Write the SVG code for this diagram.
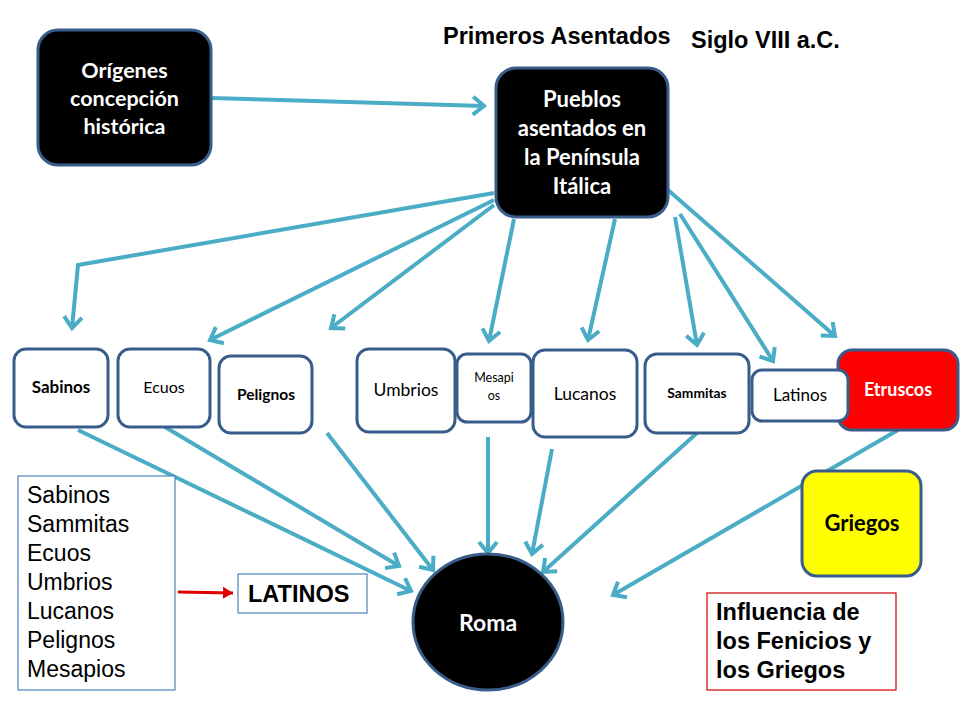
<svg xmlns="http://www.w3.org/2000/svg" width="960" height="720" viewBox="0 0 960 720">
<style>
.node{stroke:#385d8a;stroke-width:3}
.w{fill:#fff}
.blk{fill:#000}
.cal{font-family:Lato,"Open Sans","Liberation Sans",sans-serif}
.arial{font-family:"Liberation Sans",Arial,sans-serif}
.b{font-weight:bold}
.wt{fill:#fff}
.c{text-anchor:middle}
.conn{stroke:#4bacc6;stroke-width:4;fill:none;marker-end:url(#ah)}
</style>
<defs>
<marker id="ah" markerUnits="userSpaceOnUse" viewBox="-16 -12 20 24" markerWidth="20" markerHeight="24" refX="0" refY="0" orient="auto">
<path d="M-11,-9 L0,0 L-11,9" fill="none" stroke="#4bacc6" stroke-width="4"/>
</marker>
<marker id="ahr" markerUnits="userSpaceOnUse" viewBox="-12 -8 14 16" markerWidth="14" markerHeight="16" refX="0" refY="0" orient="auto">
<path d="M-10,-6 L0,0 L-10,6 Z" fill="#e00000"/>
</marker>
</defs>
<rect width="960" height="720" fill="#fff"/>

<g id="title">
<text class="arial b" x="443" y="44" font-size="23.5">Primeros Asentados</text>
<text class="arial b" x="691" y="48" font-size="23.5">Siglo VIII a.C.</text>
</g>

<g id="connectors">
<line class="conn" x1="211" y1="98" x2="484" y2="106"/>
<polyline class="conn" points="494,193 78,265 72,328"/>
<line class="conn" x1="494" y1="200" x2="210" y2="340"/>
<line class="conn" x1="494" y1="205" x2="331" y2="328"/>
<line class="conn" x1="514" y1="219" x2="489" y2="341"/>
<line class="conn" x1="615" y1="219" x2="588" y2="340"/>
<line class="conn" x1="675" y1="217" x2="697" y2="345"/>
<line class="conn" x1="680" y1="214" x2="773" y2="361"/>
<line class="conn" x1="668" y1="190" x2="835" y2="336"/>
<line class="conn" x1="78" y1="430" x2="411" y2="591"/>
<line class="conn" x1="165" y1="427" x2="399" y2="566"/>
<line class="conn" x1="327" y1="433" x2="433" y2="570"/>
<line class="conn" x1="488" y1="437" x2="488" y2="553"/>
<line class="conn" x1="552" y1="449" x2="532" y2="554"/>
<line class="conn" x1="697" y1="433" x2="543" y2="572"/>
<line class="conn" x1="898" y1="430" x2="613" y2="595"/>
<line x1="178" y1="592" x2="233" y2="593" stroke="#e00000" stroke-width="3" marker-end="url(#ahr)"/>
</g>

<g id="origenes">
<rect class="node blk" x="38" y="30" width="173" height="135" rx="20"/>
<text class="cal b wt c" font-size="21.5"><tspan x="124.5" y="78">Orígenes</tspan><tspan x="124.5" y="106">concepción</tspan><tspan x="124.5" y="134">histórica</tspan></text>
</g>

<g id="pueblos">
<rect class="node blk" x="496" y="68" width="172" height="149" rx="20"/>
<text class="cal b wt c" font-size="22"><tspan x="582" y="107">Pueblos</tspan><tspan x="582" y="136">asentados en</tspan><tspan x="582" y="165">la Península</tspan><tspan x="582" y="194">Itálica</tspan></text>
</g>

<g id="sabinos">
<rect class="node w" x="14" y="349" width="94" height="78" rx="12"/>
<text class="cal b c" font-size="17" x="61" y="393">Sabinos</text>
</g>
<g id="ecuos">
<rect class="node w" x="118" y="349" width="92" height="78" rx="12"/>
<text class="cal c" font-size="16" x="164" y="393">Ecuos</text>
</g>
<g id="pelignos">
<rect class="node w" x="219" y="356" width="93" height="77" rx="12"/>
<text class="cal b c" font-size="15.5" x="266" y="400">Pelignos</text>
</g>
<g id="umbrios">
<rect class="node w" x="357" y="349" width="98" height="83" rx="12"/>
<text class="cal c" font-size="17.5" x="406" y="396">Umbrios</text>
</g>
<g id="mesapios">
<rect class="node w" x="457" y="354" width="74" height="68" rx="10"/>
<text class="cal c" font-size="12.5"><tspan x="494" y="382">Mesapi</tspan><tspan x="494" y="400">os</tspan></text>
</g>
<g id="lucanos">
<rect class="node w" x="533" y="350" width="104" height="87" rx="12"/>
<text class="cal c" font-size="17.5" x="585" y="400">Lucanos</text>
</g>
<g id="sammitas">
<rect class="node w" x="645" y="354" width="104" height="79" rx="12"/>
<text class="cal b c" font-size="13.8" x="697" y="398">Sammitas</text>
</g>
<g id="etruscos">
<rect class="node" fill="#ff0000" x="838" y="350" width="120" height="80" rx="14"/>
<text class="cal b wt c" font-size="18" x="898" y="396">Etruscos</text>
</g>
<g id="latinos-node">
<rect class="node w" x="752" y="370" width="96" height="51" rx="10"/>
<text class="cal c" font-size="17" x="800" y="401">Latinos</text>
</g>

<g id="griegos">
<rect class="node" fill="#ffff00" x="802" y="471" width="119" height="105" rx="15"/>
<text class="cal b c" font-size="22" x="862" y="531">Griegos</text>
</g>

<g id="roma">
<ellipse class="node blk" cx="488" cy="622" rx="75" ry="68"/>
<text class="cal b wt c" font-size="23" x="488" y="631">Roma</text>
</g>

<g id="lista">
<rect x="18" y="476" width="157" height="214" fill="#fff" stroke="#4f81bd" stroke-width="1.2"/>
<text class="arial" font-size="23"><tspan x="27" y="503">Sabinos</tspan><tspan x="27" y="532">Sammitas</tspan><tspan x="27" y="561">Ecuos</tspan><tspan x="27" y="590">Umbrios</tspan><tspan x="27" y="619">Lucanos</tspan><tspan x="27" y="648">Pelignos</tspan><tspan x="27" y="677">Mesapios</tspan></text>
</g>

<g id="latinos-box">
<rect x="238" y="574" width="129" height="39" fill="#fff" stroke="#4f81bd" stroke-width="1.2"/>
<text class="arial b" font-size="23.5" x="248" y="602">LATINOS</text>
</g>

<g id="influencia">
<rect x="707" y="593" width="189" height="97" fill="#fff" stroke="#d00000" stroke-width="1.2"/>
<text class="arial b" font-size="23.5"><tspan x="716" y="620">Influencia de</tspan><tspan x="716" y="649">los Fenicios y</tspan><tspan x="716" y="678">los Griegos</tspan></text>
</g>
</svg>
